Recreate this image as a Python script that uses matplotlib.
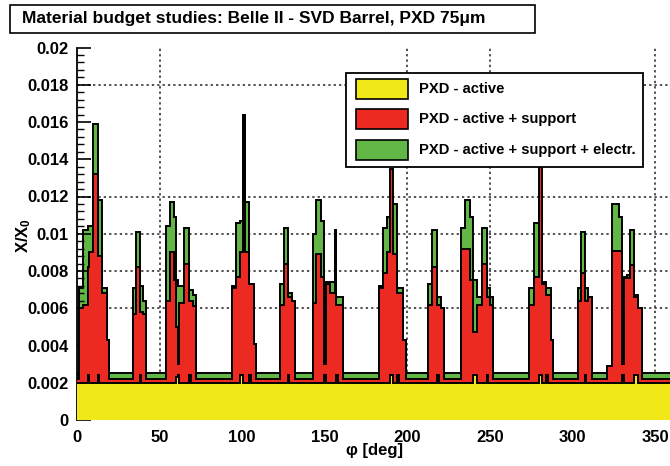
"""Material budget X/X0 vs phi for the Belle II PXD, drawn as overlaid step histograms."""

import matplotlib

matplotlib.use("Agg")
import matplotlib.pyplot as plt
from matplotlib.patches import Rectangle
from matplotlib.ticker import AutoMinorLocator, MultipleLocator

W, H = 670, 466

# bin edges in degrees (one line per detector ladder, gaps in between)
phi_edges = [0, 1, 3.5, 6.5, 7.5, 9.5, 12.5, 13.5, 15, 18, 19.5,
             34, 36, 38, 39, 40, 42,
             54, 56.5, 58.5, 60, 61, 62, 65, 68, 69, 70, 72,
             94, 96, 99, 100.5, 101.5, 104, 105.5, 107, 108.5,
             123, 125.5, 127.5, 128.5, 130, 132,
             143, 145, 148, 149.5, 150.5, 153, 156, 157, 158, 161,
             183, 185.5, 188, 189.5, 191.5, 194, 195, 197.5, 199.5,
             212.5, 215, 218, 219, 220.5, 222.5,
             232.5, 235, 238, 240, 242, 245, 248, 249, 250, 252,
             273.5, 276.5, 279.5, 281.5, 284, 285.5, 287, 288.5,
             303.5, 305.5, 307.5, 308.5, 309.5, 312,
             321, 324, 328, 330, 331, 333, 335, 337, 340, 342,
             360]

# PXD - active
x0_active = [.002, .002, .002, .0024, .002, .002, .0024, .002, .002, .002,
             .002, .002, .002, .0024, .002, .002,
             .002, .002, .002, .002, .0023, .0024, .002, .002, .0024, .002, .002,
             .002, .002, .002, .0024, .002, .002, .0024, .002, .002,
             .002, .002, .002, .0024, .002, .002,
             .002, .002, .002, .002, .0024, .002, .002, .002, .0024, .002,
             .002, .002, .002, .002, .0024, .002, .0024, .002, .002,
             .002, .002, .002, .0024, .002, .002,
             .002, .002, .002, .002, .0024, .002, .002, .0024, .002, .002,
             .002, .002, .002, .0024, .002, .0024, .002, .002,
             .002, .002, .002, .0024, .002, .002,
             .002, .002, .002, .002, .0024, .002, .002, .002, .0024, .002,
             .002]

# PXD - active + support
x0_support = [.0022, .0060, .0062, .0082, .0090, .0132, .0088, .0088, .0068, .0043,
              .0022, .0057, .0082, .0058, .0058, .0057,
              .0022, .0064, .0090, .0075, .0050, .0030, .0063, .0084, .0064, .0064, .0061,
              .0022, .0071, .0077, .0090, .0164, .0090, .0073, .0073, .0041,
              .0022, .0062, .0084, .0066, .0066, .0064,
              .0022, .0063, .0089, .0077, .0030, .0073, .0068, .0102, .0062, .0062,
              .0022, .0071, .0079, .0090, .0135, .0089, .0068, .0068, .0043,
              .0022, .0062, .0082, .0062, .0062, .0060,
              .0022, .0092, .0092, .0075, .0047, .0062, .0084, .0066, .0066, .0062,
              .0022, .0062, .0077, .0137, .0073, .0067, .0067, .0043,
              .0022, .0064, .0079, .0064, .0064, .0066,
              .0022, .0029, .0091, .0091, .0030, .0076, .0076, .0083, .0066, .0060,
              .0022]

# PXD - active + support + electr.
x0_electr = [.0025, .0071, .0102, .0104, .0104, .0159, .0118, .0118, .0071, .0043,
             .0025, .0071, .0101, .0072, .0072, .0064,
             .0025, .0104, .0117, .0109, .0075, .0072, .0072, .0103, .0070, .0070, .0067,
             .0025, .0072, .0106, .0107, .0164, .0117, .0073, .0073, .0041,
             .0025, .0073, .0103, .0068, .0068, .0064,
             .0025, .0100, .0118, .0107, .0073, .0074, .0074, .0102, .0066, .0066,
             .0025, .0072, .0103, .0109, .0109, .0116, .0071, .0071, .0043,
             .0025, .0073, .0102, .0066, .0066, .0060,
             .0025, .0103, .0118, .0109, .0075, .0066, .0103, .0071, .0071, .0066,
             .0025, .0071, .0106, .0117, .0074, .0071, .0071, .0043,
             .0025, .0071, .0101, .0071, .0071, .0066,
             .0025, .0029, .0116, .0109, .0075, .0077, .0078, .0102, .0067, .0060,
             .0025]

series_labels = ["PXD - active", "PXD - active + support", "PXD - active + support + electr."]
colors = ["#f0e818", "#ec2a22", "#62b646"]

grid_phi = [50, 200, 250, 350]
grid_x0 = [0.006, 0.008, 0.010, 0.012, 0.018]

FONT = "Liberation Sans"
plt.rcParams["font.family"] = FONT
plt.rcParams["font.weight"] = "bold"
plt.rcParams["mathtext.fontset"] = "custom"
plt.rcParams["mathtext.rm"] = "Liberation Sans:bold"
plt.rcParams["mathtext.it"] = "Liberation Sans:bold"


def fx(px):
    return px / W


def fy(py):
    return 1 - py / H


fig = plt.figure(figsize=(W / 100, H / 100), dpi=100)
ax = fig.add_axes([fx(77), fy(420), fx(671.5) - fx(77), fy(47.5) - fy(420)])
ax.set_xlim(0, 360)
ax.set_ylim(0, 0.02)

for v in grid_phi:
    ax.axvline(v, color="#222222", lw=1.1, ls=(0, (1.5, 2)), zorder=0)
for v in grid_x0:
    ax.axhline(v, color="#222222", lw=1.1, ls=(0, (1.5, 2)), zorder=0)

# ROOT-style overlay: tallest first, each fill followed by its black outline
for vals, col, z in [(x0_electr, colors[2], 1), (x0_support, colors[1], 3), (x0_active, colors[0], 5)]:
    ax.stairs(vals, phi_edges, fill=True, color=col, lw=0, zorder=z)
    ax.stairs(vals, phi_edges, baseline=None, color="black", lw=1.4, zorder=z + 0.5)

for side in ["top", "right", "bottom"]:
    ax.spines[side].set_visible(False)
ax.spines["left"].set_linewidth(1.3)

ax.xaxis.set_major_locator(MultipleLocator(50))
ax.yaxis.set_major_locator(MultipleLocator(0.002))
ax.yaxis.set_minor_locator(AutoMinorLocator(5))
ax.set_yticks([0, 0.002, 0.004, 0.006, 0.008, 0.01, 0.012, 0.014, 0.016, 0.018, 0.02],
              ["0", "0.002", "0.004", "0.006", "0.008", "0.01", "0.012", "0.014", "0.016", "0.018", "0.02"])
ax.tick_params(axis="y", which="major", direction="in", length=10, width=1.2, labelsize=12, pad=6)
ax.tick_params(axis="y", which="minor", direction="in", length=5, width=1)
ax.tick_params(axis="x", length=0, labelsize=12, pad=7)

fig.text(fx(24), fy(235), r"X/X$_0$", rotation=90, ha="center", va="center", fontsize=12)
fig.text(fx(375), fy(450), "φ [deg]", ha="center", va="center", fontsize=12)

# title pave
fig.add_artist(Rectangle((fx(10), fy(33)), fx(535) - fx(10), fy(5) - fy(33),
                         transform=fig.transFigure, facecolor="white", edgecolor="black", lw=1.2))
fig.text(fx(22), fy(19), "Material budget studies: Belle II - SVD Barrel, PXD 75μm",
         ha="left", va="center", fontsize=12.5)

# legend
fig.add_artist(Rectangle((fx(346), fy(167)), fx(643) - fx(346), fy(73) - fy(167),
                         transform=fig.transFigure, facecolor="white", edgecolor="black", lw=1.3, zorder=10))
for label, col, yc in zip(series_labels, colors, [89, 119, 150]):
    fig.add_artist(Rectangle((fx(356), fy(yc + 10)), fx(408) - fx(356), fy(yc - 10) - fy(yc + 10),
                             transform=fig.transFigure, facecolor=col, edgecolor="black", lw=1.2, zorder=11))
    fig.text(fx(419), fy(yc), label, ha="left", va="center", fontsize=10.6, zorder=12)

fig.savefig("out.png", dpi=100)
